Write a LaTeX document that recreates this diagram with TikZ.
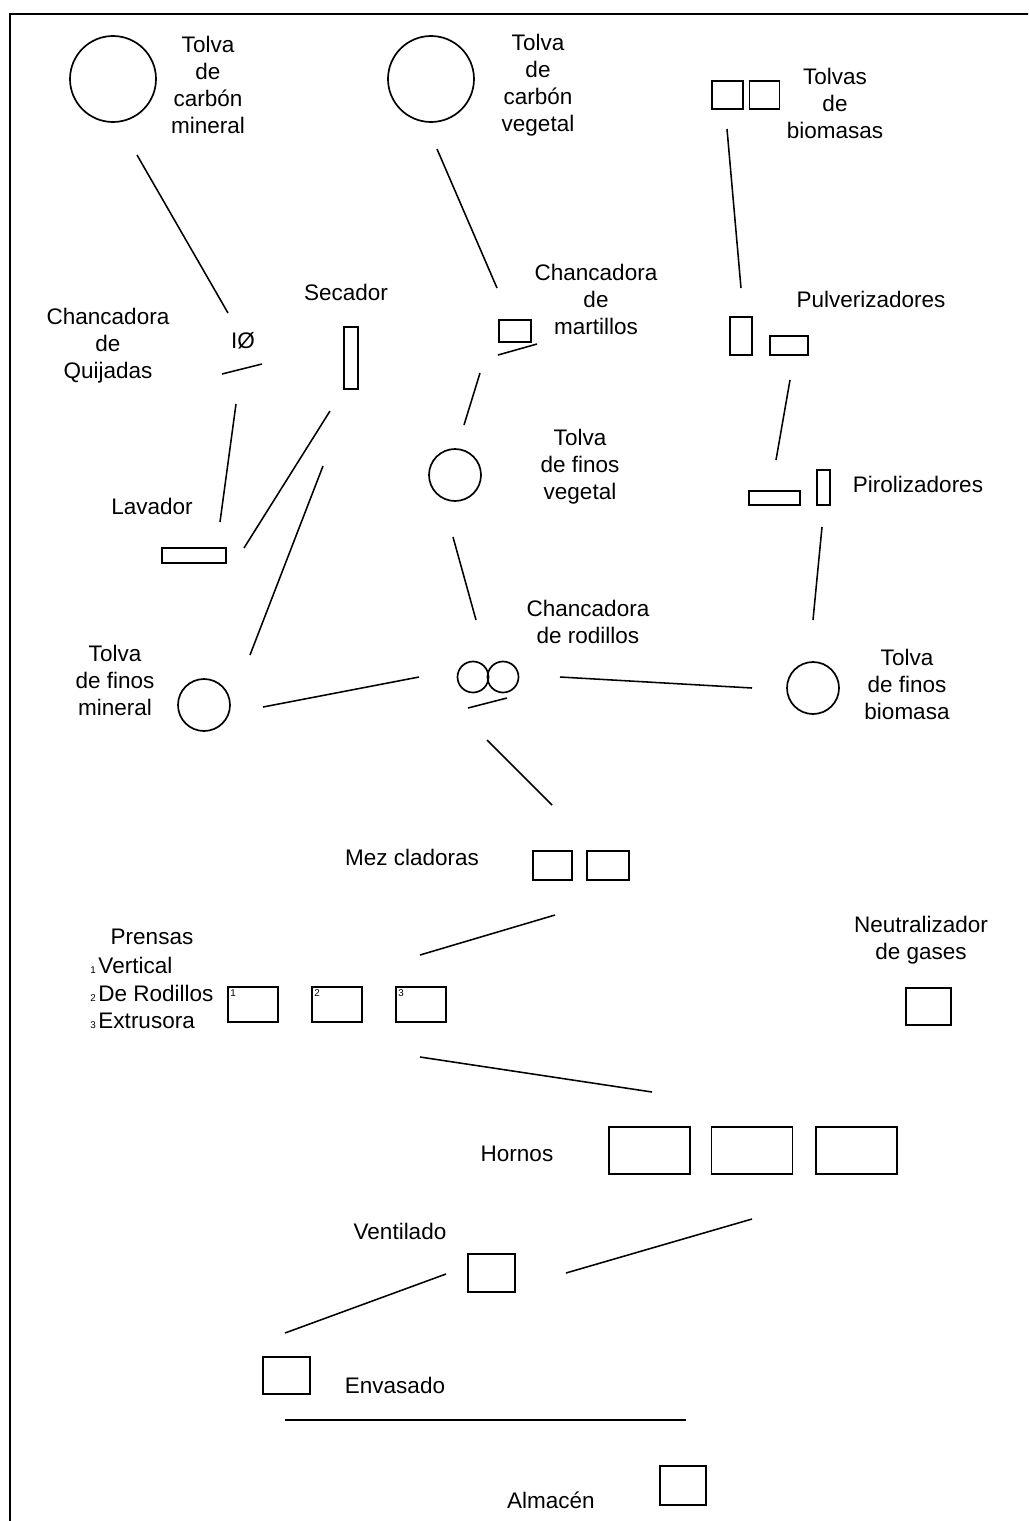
\documentclass[tikz,border=0pt]{standalone}
\usepackage{fontspec}
\setmainfont{Liberation Sans}
\usetikzlibrary{calc}

\newcommand{\rotfont}{\fontsize{16}{19.2}\selectfont}
\newcommand{\numfont}{\fontsize{7}{8}\selectfont}

\tikzset{
  tolva/.style={circle,draw,line width=1.2pt,inner sep=0pt},
  equipo/.style={rectangle,draw,line width=1.2pt,inner sep=0pt},
  rotulo/.style={align=center,font=\rotfont,inner sep=0pt},
  enlace/.style={line width=1.1pt},
  marco/.style={line width=1.4pt}
}

\begin{document}
\begin{tikzpicture}[x=0.025cm,y=-0.025cm]
  \useasboundingbox (0,0) rectangle (1028,1521);
  \clip (0,0) rectangle (1028,1521);
  \draw[marco] (10,1530) -- (10,14) -- (1040,14);

  % tolvas de entrada
  \node[tolva,minimum size=86*0.025cm] (tmin) at (113,79) {};
  \node[rotulo] (ltmin) at (208,85) {Tolva\\de\\carbón\\mineral};
  \node[tolva,minimum size=86*0.025cm] (tveg) at (431,79) {};
  \node[rotulo] (ltveg) at (538,85) {Tolva\\de\\carbón\\vegetal};
  \node[equipo,minimum width=31*0.025cm,minimum height=28*0.025cm] (tbio1) at (727.5,95) {};
  \node[equipo,minimum width=30*0.025cm,minimum height=28*0.025cm] (tbio2) at (764.5,95) {};
  \node[rotulo] (ltbio) at (835,103) {Tolvas\\de\\biomasas};

  % linea del carbon mineral
  \node[font=\rotfont,inner sep=0pt] (quij) at (243,341) {IØ};
  \node[rotulo] (lquij) at (108,346) {Chancadora\\de\\Quijadas};
  \node[equipo,minimum width=14*0.025cm,minimum height=62*0.025cm] (sec) at (351,358) {};
  \node[rotulo] (lsec) at (346,292) {Secador};
  \node[equipo,minimum width=64*0.025cm,minimum height=15*0.025cm] (lav) at (194,555.5) {};
  \node[rotulo] (llav) at (152,506) {Lavador};
  \node[tolva,minimum size=52*0.025cm] (fmin) at (204,705) {};
  \node[rotulo] (lfmin) at (115,680) {Tolva\\de finos\\mineral};

  % linea del carbon vegetal
  \node[equipo,minimum width=32*0.025cm,minimum height=22*0.025cm] (mart) at (515,331) {};
  \node[rotulo] (lmart) at (596,299) {Chancadora\\de\\martillos};
  \node[tolva,minimum size=52*0.025cm] (fveg) at (455,475) {};
  \node[rotulo] (lfveg) at (580,467) {Tolva\\de finos\\vegetal};
  \node[tolva,minimum size=31*0.025cm] (rod1) at (473,677) {};
  \node[tolva,minimum size=31*0.025cm] (rod2) at (503,677) {};
  \node[rotulo] (lrod) at (588,622) {Chancadora\\de rodillos};

  % linea de biomasas
  \node[equipo,minimum width=22*0.025cm,minimum height=38*0.025cm] (pulv1) at (741,336) {};
  \node[equipo,minimum width=38*0.025cm,minimum height=19*0.025cm] (pulv2) at (789,345.5) {};
  \node[rotulo] (lpulv) at (871,299) {Pulverizadores};
  \node[equipo,minimum width=51*0.025cm,minimum height=14*0.025cm] (piro1) at (774.5,498) {};
  \node[equipo,minimum width=13*0.025cm,minimum height=35*0.025cm] (piro2) at (823.5,487.5) {};
  \node[rotulo] (lpiro) at (918,484) {Pirolizadores};
  \node[tolva,minimum size=52*0.025cm] (fbio) at (813,688) {};
  \node[rotulo] (lfbio) at (907,684) {Tolva\\de finos\\biomasa};

  % mezcla, prensado y hornos
  \node[equipo,minimum width=39*0.025cm,minimum height=29*0.025cm] (mez1) at (552.5,865.5) {};
  \node[equipo,minimum width=42*0.025cm,minimum height=29*0.025cm] (mez2) at (608,865.5) {};
  \node[rotulo] (lmez) at (412,857) {Mez cladoras};
  \node[rotulo] (lpren) at (152,937) {Prensas};
  \node[rotulo,anchor=west] (tp1) at (90,965) {\numfont 1 \rotfont Vertical};
  \node[rotulo,anchor=west] (tp2) at (90,993) {\numfont 2 \rotfont De Rodillos};
  \node[rotulo,anchor=west] (tp3) at (90,1021) {\numfont 3 \rotfont Extrusora};
  \foreach \i/\x in {1/253,2/337,3/421}{
    \node[equipo,minimum width=50*0.025cm,minimum height=35*0.025cm] (pren\i) at (\x,1004.5) {};
    \node[anchor=north west,font=\numfont,inner sep=2pt] at (pren\i.north west) {\i};
  }
  \node[equipo,minimum width=45*0.025cm,minimum height=37*0.025cm] (neut) at (928.5,1006.5) {};
  \node[rotulo] (lneut) at (921,940) {Neutralizador\\de gases};
  \foreach \i/\x in {1/649.5,2/752,3/856.5}
    \node[equipo,minimum width=81*0.025cm,minimum height=47*0.025cm] (horno\i) at (\x,1150.5) {};
  \node[rotulo] (lhor) at (517,1154) {Hornos};

  % salida
  \node[equipo,minimum width=47*0.025cm,minimum height=38*0.025cm] (vent) at (491.5,1273) {};
  \node[rotulo] (lvent) at (400,1231) {Ventilado};
  \node[equipo,minimum width=47*0.025cm,minimum height=37*0.025cm] (env) at (286.5,1375.5) {};
  \node[rotulo] (lenv) at (395,1385) {Envasado};
  \node[equipo,minimum width=46*0.025cm,minimum height=39*0.025cm] (alm) at (683,1485.5) {};
  \node[rotulo] (lalm) at (551,1500) {Almacén};

  % trazos de union
  \foreach \n/\ax/\ay/\bx/\by in {
      a/137/155/228/313, b/222/374/262/364, c/236/404/220/522,
      d/330/411/244/548, e/323/466/250/655, f/437/149/497/288,
      g/498/355/537/344, h/480/373/464/425, i/453/537/476/620,
      j/468/708/507/698, k/263/707/419/677, l/560/677/752/688,
      m/727/129/741/288, n/790/380/776/460, o/822/527/813/620,
      p/487/740/552/805, q/555/915/420/955, r/420/1057/652/1092,
      s/752/1219/566/1273, t/446/1274/285/1333, u/285/1420/686/1420}{
    \coordinate (\n1) at (\ax,\ay);
    \coordinate (\n2) at (\bx,\by);
    \draw[enlace] (\n1) -- (\n2);
  }
\end{tikzpicture}
\end{document}
